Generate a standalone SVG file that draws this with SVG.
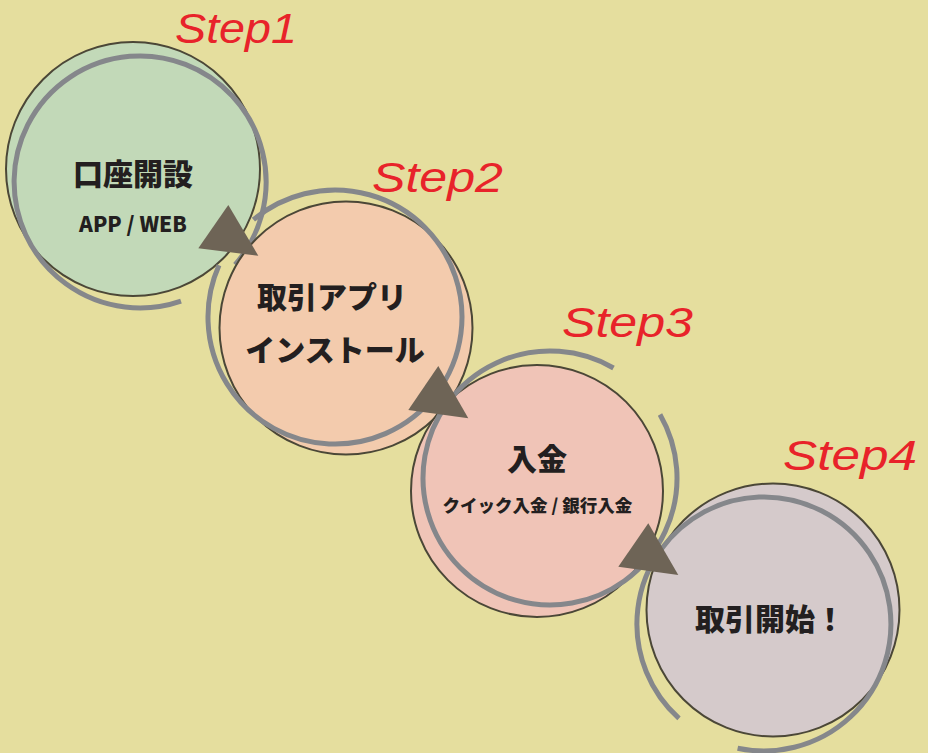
<svg xmlns="http://www.w3.org/2000/svg" width="928" height="753" viewBox="0 0 928 753">
<style>
.fill-o{stroke:#4b4737;stroke-width:2}
.ring{fill:none;stroke:#85878b;stroke-width:5}
.jp{font-family:"Noto Sans CJK JP","Noto Sans",sans-serif;font-weight:900;fill:#231f20;text-anchor:middle}
.step{font-family:"Liberation Sans","DejaVu Sans",sans-serif;font-style:italic;font-size:43px;fill:#e8232a}
.arrow{fill:#6e6456}
</style>
<rect width="928" height="753" fill="#e5de9e"/>
<g id="step1">
<circle class="fill-o" cx="133" cy="169" r="127" fill="#c2d9b8"/>
<path class="ring" d="M181,301.1 A126,126 0 1 1 235.1,264.7"/>
<text class="jp" x="133" y="185" font-size="30">口座開設</text>
<text class="jp" x="133" y="232" font-size="21" xml:space="preserve">APP / WEB</text>
<text class="step" x="175" y="43" textLength="122" lengthAdjust="spacingAndGlyphs">Step1</text>
</g>
<g id="step2">
<circle class="fill-o" cx="346" cy="328" r="126.5" fill="#f3cbad"/>
<path class="ring" d="M253.4,219.7 A127,127 0 1 1 219,265.3"/>
<text class="jp" x="332" y="308" font-size="30">取引アプリ</text>
<text class="jp" x="335" y="361" font-size="30">インストール</text>
<text class="step" x="372" y="192" textLength="131" lengthAdjust="spacingAndGlyphs">Step2</text>
</g>
<g id="step3">
<circle class="fill-o" cx="537" cy="491" r="126" fill="#f0c4b7"/>
<path class="ring" d="M660,414.5 A127,127 0 1 1 613.5,368"/>
<text class="jp" x="537" y="470" font-size="30">入金</text>
<text class="jp" x="537.5" y="512" font-size="17.5" xml:space="preserve">クイック入金 / 銀行入金</text>
<text class="step" x="562" y="337" textLength="131" lengthAdjust="spacingAndGlyphs">Step3</text>
</g>
<g id="step4">
<circle class="fill-o" cx="773" cy="610" r="126.5" fill="#d5cacb"/>
<path class="ring" d="M679,718.4 A127,127 0 1 1 737.6,748.2"/>
<text class="jp" x="770" y="630" font-size="30">取引開始！</text>
<text class="step" x="783" y="470" textLength="134" lengthAdjust="spacingAndGlyphs">Step4</text>
</g>
<g id="connectors">
<polygon class="arrow" points="228.3,205 198.3,248.3 258.3,255.7"/>
<polygon class="arrow" points="438.3,366 408.3,410 468.3,418.3"/>
<polygon class="arrow" points="648.3,523.3 618.3,566.7 678.3,575"/>
</g>
</svg>
